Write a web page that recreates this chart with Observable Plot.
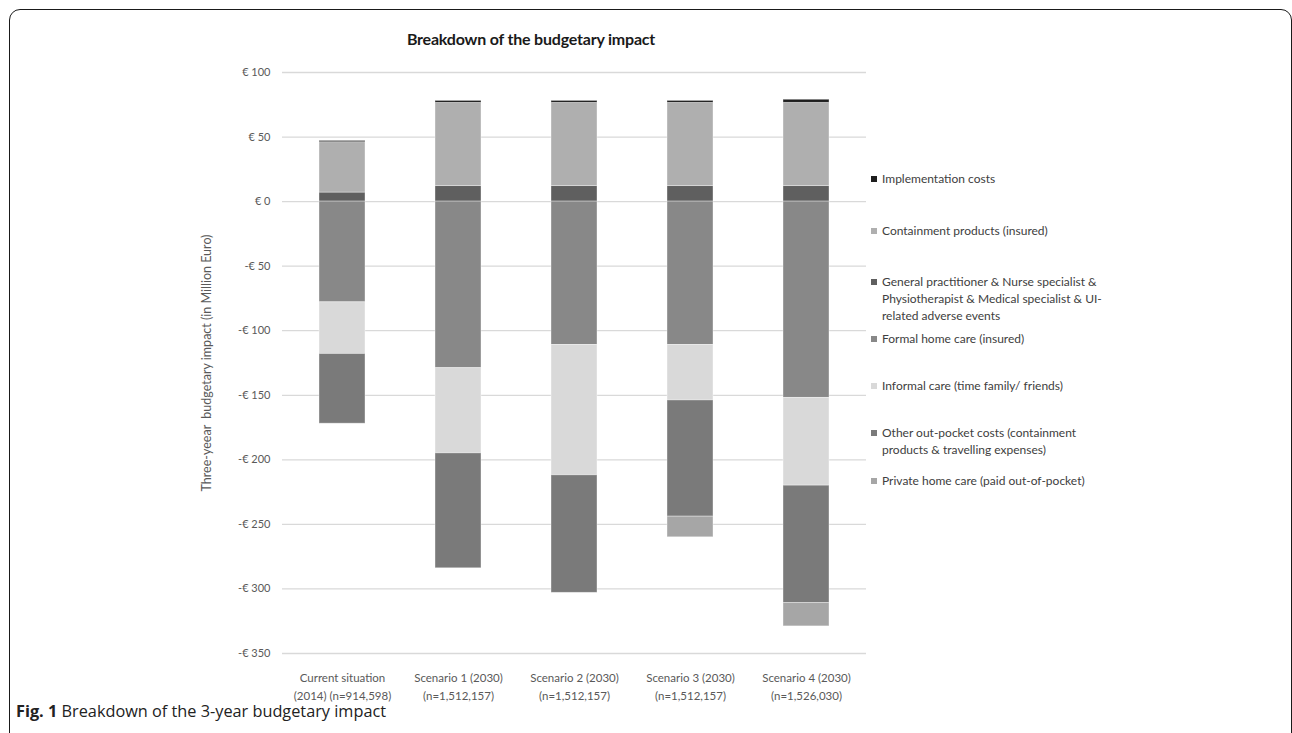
<!DOCTYPE html>
<html>
<head>
<meta charset="utf-8">
<script src="https://cdn.jsdelivr.net/npm/d3@7"></script>
<script src="https://cdn.jsdelivr.net/npm/@observablehq/plot@0.6"></script>
<style>
  html, body { margin: 0; padding: 0; background: #fff; overflow: hidden; }
  #wrap { position: relative; width: 1292px; height: 733px; font-family: Lato, "Open Sans", sans-serif; }
  #frame { position: absolute; left: 9px; top: 9px; width: 1283px; height: 780px; box-sizing: border-box;
           border: 1.6px solid #1a1a1a; border-radius: 11px; }
  #chart { position: absolute; left: 0; top: 0; }
  #title { position: absolute; left: 0; width: 1062px; top: 29px; text-align: center;
           font: bold 16px Lato, sans-serif; letter-spacing: -0.2px; color: #1a1a1a; }
  .leg { position: absolute; left: 871px; font: 12px/17px Lato, sans-serif; color: #404040; }
  .leg .sw { position: absolute; left: 0; top: 6px; width: 6px; height: 6px; }
  .leg .tx { position: absolute; left: 11px; top: 0; white-space: nowrap; }
  #caption { position: absolute; left: 16px; top: 700px; font: 16.3px "Open Sans", sans-serif; color: #222; }
</style>
</head>
<body>
<div id="wrap">
  <div id="frame"></div>
  <div id="chart"></div>
  <div id="title">Breakdown of the budgetary impact</div>
  <div id="legend"></div>
  <div id="caption"><b>Fig. 1</b> Breakdown of the 3-year budgetary impact</div>
</div>
<script>
// Categories (x axis)
const scenarios = [
  "Current situation\n(2014) (n=914,598)",
  "Scenario 1 (2030)\n(n=1,512,157)",
  "Scenario 2 (2030)\n(n=1,512,157)",
  "Scenario 3 (2030)\n(n=1,512,157)",
  "Scenario 4 (2030)\n(n=1,526,030)"
];

// Series (legend order)
const seriesNames = [
  "Implementation costs",
  "Containment products (insured)",
  "General practitioner & Nurse specialist & Physiotherapist & Medical specialist & UI-related adverse events",
  "Formal home care (insured)",
  "Informal care (time family/ friends)",
  "Other out-pocket costs (containment products & travelling expenses)",
  "Private home care (paid out-of-pocket)"
];

// Legend label lines
const legendLines = [
  ["Implementation costs"],
  ["Containment products (insured)"],
  ["General practitioner & Nurse specialist &", "Physiotherapist  & Medical specialist  & UI-", "related adverse events"],
  ["Formal home care (insured)"],
  ["Informal care (time family/ friends)"],
  ["Other out-pocket costs (containment", "products & travelling expenses)"],
  ["Private home care (paid out-of-pocket)"]
];

// Values in million euro, per series, per scenario
const implementation = [1, 1.5, 1.5, 1.5, 2.4];
const containment    = [39, 64.5, 64.5, 64.5, 64.5];
const gp             = [7, 12, 12, 12, 12];
const formalCare     = [-78, -129, -111, -111, -152];
const informalCare   = [-40, -66, -101, -43, -68];
const otherOOP       = [-54, -89, -91, -90, -91];
const privateCare    = [0, 0, 0, -16, -18];

const colors = ["#1e1e1e", "#afafaf", "#5f5f5f", "#888888", "#d9d9d9", "#7a7a7a", "#a6a6a6"];

const yTicks = [100, 50, 0, -50, -100, -150, -200, -250, -300, -350];

// Stacking order: positives up from 0 (GP, containment, implementation), negatives down
const stackOrder = [
  [seriesNames[2], gp],
  [seriesNames[1], containment],
  [seriesNames[0], implementation],
  [seriesNames[3], formalCare],
  [seriesNames[4], informalCare],
  [seriesNames[5], otherOOP],
  [seriesNames[6], privateCare]
];
const data = [];
for (const [name, vals] of stackOrder) {
  scenarios.forEach((s, i) => data.push({scenario: s, series: name, value: vals[i]}));
}

const euro = v => v < 0 ? `-€ ${-v}` : `€ ${v}`;

const chart = Plot.plot({
  width: 1292,
  height: 733,
  marginLeft: 282,
  marginRight: 426,
  marginTop: 72,
  marginBottom: 80,
  style: {fontFamily: "Lato, sans-serif", background: "transparent"},
  x: {domain: scenarios, paddingInner: 0.6, paddingOuter: 0.3, label: null},
  y: {domain: [-350, 100], label: null},
  color: {domain: seriesNames, range: colors},
  marks: [
    Plot.gridY(yTicks, {stroke: "#d9d9d9", strokeOpacity: 1, strokeWidth: 1.3}),
    Plot.barY(data, Plot.stackY({order: stackOrder.map(d => d[0])}, {
      x: "scenario", y: "value", fill: "series", z: "series",
      stroke: "#ffffff", strokeOpacity: 0.45, strokeWidth: 0.8
    })),
    Plot.axisY(yTicks, {
      tickSize: 0, tickPadding: 12, tickFormat: euro, fontSize: 11, fill: "#595959", label: null
    }),
    Plot.axisY({
      ticks: [], tickSize: 0, fontSize: 12.5, fill: "#595959",
      label: "Three-yeear  budgetary impact (in Million Euro)", labelAnchor: "center",
      labelArrow: "none", labelOffset: 80
    }),
    Plot.axisX({
      tickSize: 0, tickPadding: 15, fontSize: 11.5, fill: "#595959", lineHeight: 1.62, label: null
    })
  ]
});
document.getElementById("chart").appendChild(chart);

// Legend
const legendTops = [170, 222, 273, 330, 377, 424, 472];
const legend = document.getElementById("legend");
seriesNames.forEach((name, i) => {
  const item = document.createElement("div");
  item.className = "leg";
  item.style.top = legendTops[i] + "px";
  const sw = document.createElement("div");
  sw.className = "sw";
  sw.style.background = colors[i];
  const tx = document.createElement("div");
  tx.className = "tx";
  tx.innerHTML = legendLines[i].map(l => l.replace(/&/g, "&amp;")).join("<br>");
  item.appendChild(sw);
  item.appendChild(tx);
  legend.appendChild(item);
});
</script>
</body>
</html>
